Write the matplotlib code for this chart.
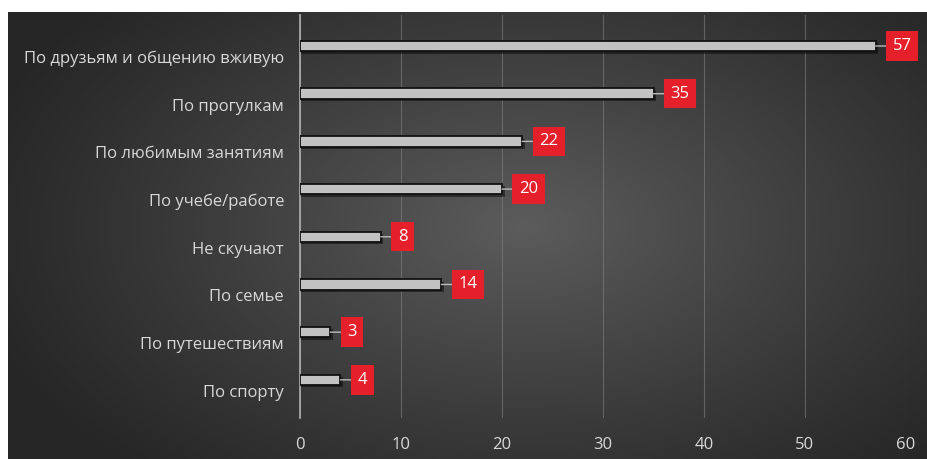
import numpy as np
import matplotlib.pyplot as plt
import matplotlib.transforms as mtransforms

# Ответы: по чему скучают (сверху вниз)
categories = ["По друзьям и общению вживую", "По прогулкам", "По любимым занятиям",
              "По учебе/работе", "Не скучают", "По семье", "По путешествиям", "По спорту"]
values = [57, 35, 22, 20, 8, 14, 3, 4]
xticks = [0, 10, 20, 30, 40, 50, 60]

plt.rcParams['font.family'] = ['Open Sans', 'DejaVu Sans']
txtColor = '#d8d8d8'

fig = plt.figure(figsize=(9.28, 4.59), dpi=100, facecolor='white')

# тёмный фон с радиальным градиентом
bg = fig.add_axes([8 / 928, 0, 1 - 8 / 928, (459 - 12) / 459])
bg.set_axis_off()
gx, gy = np.meshgrid(np.linspace(0, 1, 400), np.linspace(0, 1, 200))
r = np.sqrt(((gx - 0.56) / 0.62) ** 2 + ((gy - 0.48) / 0.75) ** 2)
shade = np.clip(1 - r, 0, 1) ** 1.1
lum = 0.15 + 0.21 * shade
bg.imshow(np.dstack([lum, lum, lum]), aspect='auto', extent=[0, 1, 0, 1])
bg.set_xlim(0, 1)
bg.set_ylim(0, 1)

ax = fig.add_axes([300 / 928, 1 - 418 / 459, 606 / 928, 403 / 459])
ax.set_facecolor('none')
ypos = np.arange(len(categories))
barH = 0.22

# тень под полосами
ax.barh(ypos + 0.05, [v + 0.25 for v in values], height=barH, color='black',
        alpha=0.45, linewidth=0, zorder=2)
ax.barh(ypos, values, height=barH, color='#c2c2c2', edgecolor='#111111',
        linewidth=1.3, zorder=3)

for y, v in zip(ypos, values):
    ax.annotate(str(v), xy=(v, y), xytext=(17, 0), textcoords='offset pixels',
                ha='left', va='center', color='white', fontsize=12, zorder=5,
                bbox=dict(boxstyle='square,pad=0.4', facecolor='#e5202a',
                          edgecolor='none'),
                arrowprops=dict(arrowstyle='-', color='#bbbbbb', lw=1,
                                shrinkA=0, shrinkB=0))

ax.set_xlim(0, 60)
ax.set_ylim(7.8, -0.65)
ax.set_xticks(xticks)
ax.set_yticks(ypos)
ax.set_yticklabels(categories)
ax.tick_params(axis='both', length=0, colors=txtColor, labelsize=12)
ax.tick_params(axis='y', labelsize=12, pad=11.5)
ax.tick_params(axis='x', pad=14)

# подписи категорий стоят чуть ниже полос
shift = mtransforms.ScaledTranslation(0, -11 / 100, fig.dpi_scale_trans)
for lbl in ax.get_yticklabels():
    lbl.set_transform(lbl.get_transform() + shift)

ax.grid(axis='x', color='#808080', linewidth=0.8, alpha=0.6, zorder=0)
ax.set_axisbelow(True)
for s in ['top', 'right', 'bottom']:
    ax.spines[s].set_visible(False)
ax.spines['left'].set_color('#b0b0b0')
ax.spines['left'].set_linewidth(1.2)

fig.savefig('out.png', dpi=100, facecolor='white')
